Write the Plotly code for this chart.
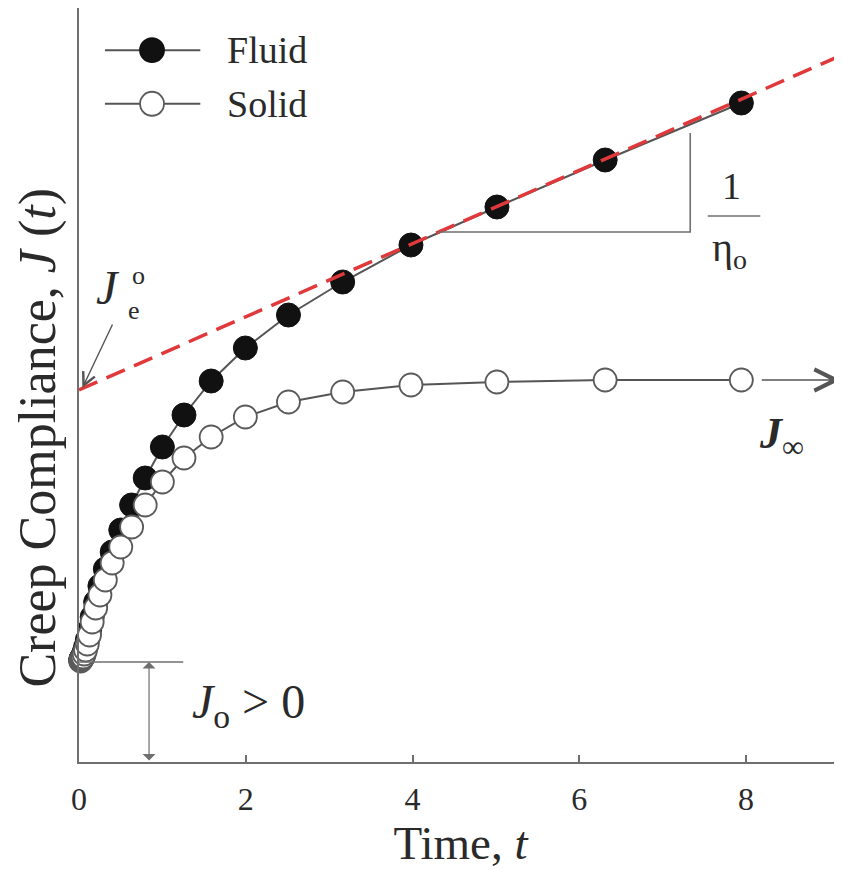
import plotly.graph_objects as go

# ---------------- data ----------------
t_vals = [0.02, 0.025, 0.032, 0.04, 0.05, 0.063, 0.079, 0.1, 0.126, 0.158,
          0.2, 0.251, 0.316, 0.398, 0.501, 0.631, 0.794, 1.0, 1.259, 1.585,
          1.995, 2.512, 3.162, 3.981, 5.012, 6.310, 7.943]
fluid_J = [1.02, 1.03, 1.04, 1.05, 1.07, 1.10, 1.15, 1.22, 1.32, 1.45,
           1.60, 1.76, 1.93, 2.10, 2.32, 2.57, 2.84, 3.15, 3.47, 3.81,
           4.14, 4.47, 4.80, 5.17, 5.55, 6.02, 6.59]
solid_J = [1.01, 1.02, 1.03, 1.04, 1.05, 1.08, 1.12, 1.18, 1.27, 1.40,
           1.54, 1.67, 1.82, 1.99, 2.15, 2.35, 2.57, 2.80, 3.04, 3.25,
           3.45, 3.60, 3.70, 3.77, 3.80, 3.82, 3.82]

# asymptote of the fluid (J_e^o + t/eta_o)
asym_t = [0.0, 9.15]
asym_J = [3.72, 7.07]

# J_infinity level and arrow extent
J_inf = 3.82
J_inf_arrow_t = [8.17, 9.13]

# J_o level and markers
J_o = 1.0
J_o_line_t = [0.0, 1.25]
J_o_arrow_t = 0.84

# slope triangle (1/eta_o)
slope_t = [4.3, 7.33, 7.33]
slope_J = [5.30, 5.30, 6.29]

x_ticks = [0, 2, 4, 6, 8]
x_tick_labels = ["0", "2", "4", "6", "8"]

FONT = "Liberation Serif, Times New Roman, serif"
TXT = "#2a2a2a"
AX = "#6f6f6f"
LN = "#555555"

fig = go.Figure()

fig.add_trace(go.Scatter(
    x=t_vals, y=fluid_J, name="Fluid", mode="lines+markers",
    line=dict(color=LN, width=2),
    marker=dict(size=24, color="#111111", line=dict(color="#111111", width=1)),
    cliponaxis=False, showlegend=False))

fig.add_trace(go.Scatter(
    x=t_vals, y=solid_J, name="Solid", mode="lines+markers",
    line=dict(color=LN, width=2),
    marker=dict(size=23, color="white", line=dict(color="#5a5a5a", width=1.8)),
    cliponaxis=False, showlegend=False))

fig.add_trace(go.Scatter(
    x=asym_t, y=asym_J, mode="lines", name="asymptote",
    line=dict(color="#e0393b", width=3.5, dash="20px,10px"),
    cliponaxis=False, showlegend=False))

fig.add_trace(go.Scatter(
    x=slope_t, y=slope_J, mode="lines", name="slope",
    line=dict(color=AX, width=1.6), showlegend=False, hoverinfo="skip"))

fig.add_trace(go.Scatter(
    x=J_o_line_t, y=[J_o, J_o], mode="lines", name="J_o level",
    line=dict(color=AX, width=1.6), showlegend=False, hoverinfo="skip",
    cliponaxis=False))

annotations = []

# J_infinity arrow
annotations.append(dict(x=J_inf_arrow_t[1], y=J_inf, ax=J_inf_arrow_t[0], ay=J_inf,
                        xref="x", yref="y", axref="x", ayref="y", text="",
                        showarrow=True, arrowhead=5, arrowsize=2.8, arrowwidth=1.5,
                        arrowcolor=LN))
# J_o double arrow
annotations.append(dict(x=J_o_arrow_t, y=J_o, ax=J_o_arrow_t, ay=0,
                        xref="x", yref="y", axref="x", ayref="y", text="",
                        showarrow=True, arrowhead=1, startarrowhead=1,
                        arrowside="end+start", arrowsize=1.8, startarrowsize=1.8,
                        arrowwidth=1.2, arrowcolor=AX))
# J_e^o pointer arrow
annotations.append(dict(x=0.04, y=asym_J[0] + 0.02, ax=0.41, ay=4.39,
                        xref="x", yref="y", axref="x", ayref="y", text="",
                        showarrow=True, arrowhead=5, arrowsize=1.8, arrowwidth=1.4,
                        arrowcolor=LN))

def txt(x, y, s, size, xanchor="center", **kw):
    d = dict(x=x, y=y, xref="x", yref="y", text=s, showarrow=False,
             xanchor=xanchor, yanchor="middle",
             font=dict(family=FONT, size=size, color=TXT))
    d.update(kw)
    return d

annotations.append(txt(0.35, 4.75, "<i>J</i>", 48))
annotations.append(txt(0.71, 4.87, "o", 26))
annotations.append(txt(0.66, 4.52, "e", 26))
annotations.append(txt(7.82, 5.76, "1", 38))
annotations.append(txt(7.80, 5.12, "η<sub>o</sub>", 40))
annotations.append(txt(8.42, 3.26, "<b><i>J</i></b><sub>∞</sub>", 44))
annotations.append(txt(1.33, 0.57, "<i>J</i><sub>o</sub> &gt; 0", 48, xanchor="left"))

# y-axis title
annotations.append(dict(x=-0.054, y=0.43, xref="paper", yref="paper",
                        text="Creep Compliance, <i>J</i> (<i>t</i>)", textangle=-90,
                        showarrow=False, xanchor="center", yanchor="middle",
                        font=dict(family=FONT, size=52, color=TXT)))

# legend (manual)
leg_rows = [("Fluid", 0.944, "#111111"), ("Solid", 0.873, "white")]
shapes = []
for name, yy, fill in leg_rows:
    shapes.append(dict(type="line", xref="paper", yref="paper",
                       x0=0.034, x1=0.159, y0=yy, y1=yy,
                       line=dict(color=LN, width=2)))
    shapes.append(dict(type="circle", xref="paper", yref="paper",
                       xsizemode="pixel", ysizemode="pixel",
                       xanchor=0.0957, yanchor=yy, x0=-12, x1=12, y0=-12, y1=12,
                       fillcolor=fill, line=dict(color="#111111" if fill != "white" else "#5a5a5a",
                                                  width=1.8)))
    annotations.append(dict(x=0.191, y=yy, xref="paper", yref="paper", text=name,
                            showarrow=False, xanchor="left", yanchor="middle",
                            font=dict(family=FONT, size=38, color=TXT)))

# fraction bar
shapes.append(dict(type="line", xref="x", yref="y", x0=7.54, x1=8.17, y0=5.46, y1=5.46,
                   line=dict(color=AX, width=1.6)))

# The page body has an 8px margin: the figure is sized so the plot lands on the reference.
fig.update_layout(
    width=834, height=862,
    margin=dict(l=71, r=0, t=0, b=108),
    paper_bgcolor="white", plot_bgcolor="white",
    annotations=annotations, shapes=shapes,
    showlegend=False,
    xaxis=dict(range=[0, 9.15], showgrid=False, zeroline=False,
               showline=True, linecolor=AX, linewidth=2,
               ticks="inside", ticklen=7, tickwidth=1.5, tickcolor=AX,
               tickvals=x_ticks, ticktext=x_tick_labels,
               tickfont=dict(family=FONT, size=32, color=TXT),
               ticklabelstandoff=8,
               title=dict(text="Time, <i>t</i>", standoff=8,
                          font=dict(family=FONT, size=47, color=TXT))),
    yaxis=dict(range=[0, 7.54], showgrid=False, zeroline=False,
               showline=True, linecolor=AX, linewidth=2,
               showticklabels=False, ticks=""),
)

fig.write_html("out.html")
